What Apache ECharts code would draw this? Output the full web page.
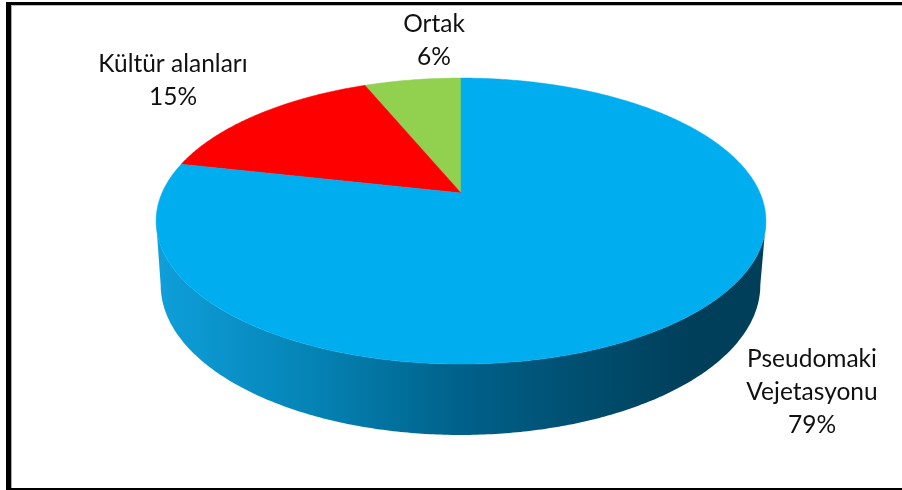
<!DOCTYPE html>
<html><head><meta charset="utf-8">
<style>html,body{margin:0;padding:0;background:#fff}#c{width:902px;height:490px}</style>
<script src="https://cdn.jsdelivr.net/npm/echarts@6/dist/echarts.min.js"></script>
</head><body><div id="c"></div>
<script>
const categories = ['Ortak', 'Kültür alanları', 'Pseudomaki\nVejetasyonu'];
const values = [6.2, 15.3, 78.5];
const labelsPct = ['6%', '15%', '79%'];

const colors = ['#92D050', '#FF0000', '#00ADEF'];
const labelPos = [[434, 41], [173, 81], [812, 392.5]];
const total = values.reduce((a, b) => a + b, 0);
const K = 0.196;
const TOP = {x: 461, y: 193, a: 137.5, b: 299};
const LOW = {x: 460.5, y: 255.6, a: 144.2, b: 294};
const FRONT_A = Math.acos(-K), FRONT_B = 2 * Math.PI - FRONT_A;

function proj(m, t) {
  const u = Math.sin(t), v = Math.cos(t), d = 1 + K * v;
  return [m.x + m.b * u / d, m.y - m.a * v / d];
}
function arc(m, t0, t1) {
  const n = Math.max(2, Math.ceil(Math.abs(t1 - t0) / 0.01)), p = [];
  for (let i = 0; i <= n; i++) p.push(proj(m, t0 + (t1 - t0) * i / n));
  return p;
}
const wallGrad = new echarts.graphic.LinearGradient(0, 0, 1, 0, [
  {offset: 0, color: '#0F9FDA'}, {offset: 0.25, color: '#0584B6'},
  {offset: 0.5, color: '#00618A'}, {offset: 0.75, color: '#004A69'},
  {offset: 0.88, color: '#003F5A'}, {offset: 1, color: '#003F5A'}
]);

function renderItem(params, api) {
  const i = api.value(0), val = api.value(1);
  // clockwise from top, in reverse data order: the largest slice starts at 12 o'clock
  let after = 0;
  for (let j = i + 1; j < values.length; j++) after += values[j];
  const t0 = after / total * 2 * Math.PI, t1 = (after + val) / total * 2 * Math.PI;
  const children = [];
  const ws = Math.max(t0, FRONT_A), we = Math.min(t1, FRONT_B);
  if (ws < we) {
    children.push({type: 'polygon', z2: 1,
      shape: {points: arc(TOP, ws, we).concat(arc(LOW, we, ws))},
      style: {fill: wallGrad}});
  }
  children.push({type: 'polygon', z2: 2,
    shape: {points: [[TOP.x, TOP.y]].concat(arc(TOP, t0, t1))},
    style: {fill: colors[i], stroke: colors[i], lineWidth: 0.5}});
  children.push({type: 'text', z2: 3,
    style: {x: labelPos[i][0], y: labelPos[i][1],
      text: categories[i] + '\n' + labelsPct[i],
      align: 'center', verticalAlign: 'middle',
      fontFamily: 'Lato', fontSize: 24.5, lineHeight: 33, fill: '#111'}});
  return {type: 'group', children};
}

const bar = (x, y, w, h, fill) => ({type: 'rect', silent: true, shape: {x, y, width: w, height: h}, style: {fill}});
const chart = echarts.init(document.getElementById('c'), null, {renderer: 'canvas'});
chart.setOption({
  animation: false,
  backgroundColor: '#fff',
  graphic: [
    bar(6, 2, 896, 3, '#000'), bar(11, 5, 891, 1, '#bbb'),
    bar(6, 2, 5, 488, '#000'), bar(11, 5, 1, 483, '#aaa'),
    bar(6, 488, 896, 2, '#000')
  ],
  series: [{type: 'custom', coordinateSystem: 'none', renderItem,
    data: values.map((v, i) => [i, v])}]
});
</script></body></html>
